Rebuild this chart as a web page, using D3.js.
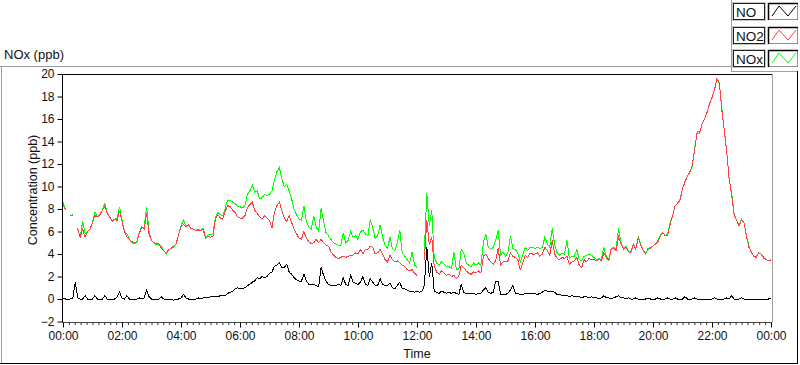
<!DOCTYPE html>
<html><head><meta charset="utf-8">
<script src="https://cdn.jsdelivr.net/npm/d3@7"></script>
<style>
body{margin:0;background:#fff}
svg{display:block}
text{font-family:"Liberation Sans",Arial,sans-serif;fill:#111}
</style>
</head><body>
<svg id="c" width="800" height="365"></svg>
<script>
const seriesNames = ["NO", "NO2", "NOx"];
const seriesColors = ["#000000", "#ff4040", "#00ff00"];
const xTickLabels = ["00:00","02:00","04:00","06:00","08:00","10:00","12:00","14:00","16:00","18:00","20:00","22:00","00:00"];
const yTickValues = [-2,0,2,4,6,8,10,12,14,16,18,20];
const sampleMinutes = 5;

const NO = [
0.1,0.0,0.0,0.0,0.1,1.5,0.1,0.0,0.0,0.3,0.0,0.0,
0.0,0.3,0.0,0.0,0.0,0.3,0.0,0.0,0.0,0.0,0.2,0.6,
0.1,0.0,0.3,0.0,0.0,0.0,0.0,0.1,0.0,0.1,0.8,0.2,
0.0,0.0,0.0,0.0,0.2,0.0,0.0,0.0,0.0,-0.1,0.0,0.0,
0.1,0.4,0.1,0.0,0.0,0.0,0.0,0.1,0.0,0.1,0.1,0.1,
0.2,0.2,0.2,0.2,0.3,0.3,0.3,0.5,0.6,0.7,0.9,1.0,
0.9,0.9,1.0,1.2,1.3,1.5,1.6,1.9,1.8,2.0,1.9,2.0,
2.3,2.4,2.9,3.0,3.2,2.8,2.8,3.1,2.4,2.2,1.9,1.7,
1.6,1.6,2.2,1.6,1.3,1.3,1.3,1.2,1.1,2.8,2.1,1.6,
1.3,1.2,1.2,1.2,1.3,1.2,1.9,1.3,1.2,2.1,1.5,1.4,
1.3,1.5,2.0,1.3,1.2,1.8,1.5,1.2,1.2,1.8,1.3,1.2,
1.2,1.4,1.0,0.9,1.2,1.5,0.9,0.9,0.8,0.7,0.7,0.6,
0.7,0.6,0.7,1.2,4.6,2.0,3.2,0.7,0.6,0.5,0.7,0.6,
0.5,0.6,0.5,0.6,0.5,0.4,1.3,0.6,0.5,0.5,0.5,0.5,
0.4,0.5,0.5,0.8,1.0,0.6,0.5,0.6,1.6,1.6,0.4,0.4,
0.4,0.5,0.8,1.2,0.5,0.5,0.4,0.4,0.5,0.5,0.5,0.5,
0.5,0.4,0.5,0.6,0.8,0.7,0.7,0.7,0.6,0.4,0.4,0.3,
0.3,0.3,0.2,0.3,0.2,0.2,0.2,0.1,0.2,0.2,0.1,0.2,
0.1,0.1,0.0,0.1,0.3,0.1,0.1,0.0,0.1,0.2,0.3,0.1,
0.1,0.0,0.1,0.0,0.0,0.1,0.0,0.0,0.0,0.0,0.1,0.0,
0.0,0.0,0.1,0.0,0.0,0.0,0.1,0.0,0.0,0.1,0.0,0.0,
0.0,0.2,0.0,0.0,0.0,0.1,0.0,0.0,0.0,0.0,0.0,0.0,
0.0,0.1,0.0,0.0,0.0,0.0,0.1,0.0,0.3,0.0,0.0,0.0,
0.1,0.0,0.0,0.0,0.0,0.0,0.0,0.0,0.0,0.0,0.0,0.0,
0.1
];

const NO2 = [
8.4,7.9,null,7.4,7.4,null,6.2,5.5,6.2,5.5,6.0,6.2,
6.8,7.4,7.3,7.5,7.9,8.2,7.6,7.3,6.9,7.1,7.0,7.8,
6.9,6.0,5.5,5.3,5.1,5.0,5.1,5.8,6.4,6.2,7.6,5.8,
5.2,5.0,4.9,4.9,4.5,4.3,4.1,4.4,4.5,4.7,4.9,5.7,
6.4,6.6,6.4,6.6,6.3,6.2,6.1,6.1,6.1,6.2,5.4,5.6,
5.5,5.6,7.1,7.5,7.2,7.1,7.8,8.3,8.2,7.9,7.7,7.3,
7.2,7.2,7.4,8.1,8.4,8.6,7.9,7.6,7.3,7.1,7.4,7.2,
7.0,6.3,7.7,8.3,8.6,7.9,7.2,6.9,7.4,6.8,6.2,5.8,
5.4,5.3,6.0,5.4,5.1,4.9,5.0,5.3,5.0,5.3,5.0,4.8,
4.7,4.2,3.9,3.7,3.6,3.7,3.8,3.7,3.8,3.9,3.9,4.1,
4.0,4.4,4.0,4.4,4.4,4.7,4.6,4.0,4.1,4.4,4.0,3.5,
3.3,3.9,3.5,3.3,3.4,3.2,3.0,2.9,2.6,2.5,2.6,2.3,
2.1,null,null,3.5,7.0,4.8,5.5,2.9,2.4,2.2,2.5,2.3,
2.1,2.2,2.0,2.1,1.8,2.0,3.0,2.8,2.5,2.3,2.2,2.4,
2.3,2.5,2.3,3.8,4.0,3.6,3.3,3.1,3.4,4.5,3.0,3.3,
3.3,3.4,4.1,3.8,3.7,3.5,2.6,3.2,3.9,3.7,4.1,4.0,
4.0,4.1,3.8,4.0,4.6,4.3,3.9,5.2,4.0,3.6,3.5,3.7,
3.6,3.8,3.1,3.3,3.4,3.7,3.0,2.8,3.5,3.3,3.6,3.5,
3.5,3.4,3.5,3.4,4.1,3.7,3.4,4.4,4.5,4.3,5.5,4.9,
4.4,4.6,4.2,4.1,4.8,4.4,5.4,4.8,4.3,4.1,4.4,4.5,
4.7,4.9,5.1,5.6,5.9,5.6,5.7,6.7,7.4,8.3,8.5,8.8,
9.8,10.4,10.9,11.3,11.9,13.4,14.9,14.8,15.6,16.0,16.6,17.3,
17.9,18.6,19.6,19.2,16.8,15.0,13.0,10.7,9.2,7.5,7.0,6.5,
7.0,6.8,5.6,4.6,4.2,3.8,3.7,4.1,4.0,3.7,3.5,3.4,
3.4
];

const NOx = [
8.6,8.0,null,7.4,7.5,null,6.3,5.5,6.9,5.8,6.0,6.2,
6.8,7.7,7.3,7.5,7.9,8.5,7.6,7.3,6.9,7.1,7.2,8.2,
7.0,6.0,5.8,5.3,5.0,4.9,5.0,5.9,6.4,6.3,8.2,6.0,
5.2,5.0,4.8,4.9,4.7,4.3,4.0,4.4,4.5,4.6,4.9,5.7,
6.5,7.0,6.5,6.6,6.3,6.2,6.1,6.2,6.1,6.3,5.5,5.7,
5.7,5.8,7.3,7.7,7.5,7.4,8.1,8.8,8.8,8.6,8.5,8.2,
8.2,8.1,8.3,9.3,9.6,10.1,9.5,9.6,8.9,9.0,9.3,9.2,
9.3,9.6,10.6,11.3,11.7,10.7,10.0,10.2,9.6,8.9,8.0,7.5,
7.1,7.0,8.3,6.9,6.4,6.2,7.4,6.4,6.0,8.1,6.9,5.9,
5.6,5.3,5.0,4.9,4.8,4.8,5.9,5.0,5.2,6.0,5.5,5.6,
5.3,6.0,6.1,5.8,5.6,7.1,6.3,5.4,5.6,6.6,5.5,4.8,
4.5,5.5,4.5,4.3,5.0,6.1,4.1,3.8,3.5,3.2,4.2,3.0,
2.8,null,null,4.4,9.4,6.5,7.9,3.7,3.2,3.0,3.3,3.1,
2.9,2.9,2.7,4.2,2.6,2.6,4.4,4.1,3.2,3.0,2.9,3.2,
3.0,3.2,3.0,5.0,5.8,4.6,4.4,4.6,5.2,6.1,3.9,4.2,
3.8,4.1,5.6,4.5,4.4,4.1,3.3,3.9,4.6,4.3,4.6,4.6,
4.5,4.6,4.5,4.6,5.5,4.9,4.6,6.3,4.8,4.1,3.9,4.1,
4.0,5.2,3.6,3.8,3.8,4.4,3.5,3.4,3.8,3.9,4.0,3.9,
3.7,3.5,3.6,3.5,4.6,3.8,3.5,4.5,4.6,4.5,6.3,5.0,
4.5,4.7,4.3,4.2,4.9,4.5,5.5,4.9,4.3,4.0,4.5,4.6,
4.7,4.9,5.2,5.7,5.9,5.6,5.8,6.8,7.4,8.3,8.5,8.9,
9.8,10.5,10.9,11.3,11.8,13.5,14.8,14.7,15.6,16.0,16.6,17.4,
17.9,18.6,19.5,19.2,16.9,15.0,13.1,10.6,9.4,7.6,7.0,6.5,
7.1,6.8,5.7,4.7,4.1,3.8,3.8,4.1,4.0,3.6,3.5,3.4,
3.5
];

const svg = d3.select("#c");
const W = 800, H = 365;
svg.append("rect").attr("width", W).attr("height", H).attr("fill", "#fff");

const x = d3.scaleLinear().domain([0, 24 * 60]).range([63, 771]);
const y = d3.scaleLinear().domain([-2, 20]).range([321.5, 74]);

// outer panel frame
const gray = "#a0a0a0";
function hline(x1, x2, yy, c, w) { svg.append("line").attr("x1", x1).attr("x2", x2).attr("y1", yy).attr("y2", yy).attr("stroke", c).attr("stroke-width", w || 1).attr("shape-rendering", "crispEdges"); }
function vline(xx, y1, y2, c, w) { svg.append("line").attr("x1", xx).attr("x2", xx).attr("y1", y1).attr("y2", y2).attr("stroke", c).attr("stroke-width", w || 1).attr("shape-rendering", "crispEdges"); }
hline(0, 731, 66.5, gray);
vline(731.5, 0, 72, gray);
hline(731, 798, 71.5, gray);
vline(1.5, 66, 363, gray);
hline(0, 798, 363.5, "#000");
vline(797.5, 71, 364, "#000");

// plot frame
hline(62, 772, 74.5, "#000");
vline(772.5, 74, 322, gray);

// title
svg.append("text").attr("x", 4).attr("y", 59).attr("font-size", 13).text("NOx (ppb)");

// clip
svg.append("clipPath").attr("id", "pc").append("rect")
  .attr("x", 63).attr("y", 75).attr("width", 709).attr("height", 247);

const seriesData = [NO, NO2, NOx];
const line = d3.line()
  .defined(d => d != null)
  .x((d, i) => x(i * sampleMinutes))
  .y(d => y(d));

const plotG = svg.append("g").attr("clip-path", "url(#pc)");
// draw order: NOx underneath, NO2 on top of it, then NO
[2, 1, 0].forEach(k => {
  plotG.append("path")
    .attr("d", line(seriesData[k]))
    .attr("fill", "none")
    .attr("stroke", seriesColors[k])
    .attr("stroke-width", 1)
    .attr("shape-rendering", "crispEdges");
});

// y axis
const yAxis = d3.axisLeft(y).tickValues(yTickValues).tickSize(5).tickPadding(3).tickFormat(d3.format("d"));
const yg = svg.append("g").attr("transform", "translate(62.5,0)").call(yAxis);
yg.select(".domain").attr("stroke", "#000").attr("d", "M0,74V322");
yg.selectAll(".tick line").attr("stroke", "#000");
yg.selectAll(".tick text").attr("font-size", 12).attr("fill", "#111");

// x axis
const xMajor = d3.range(0, 24 * 60 + 1, 120);
const xAxis = d3.axisBottom(x).tickValues(xMajor).tickSize(5).tickPadding(4).tickFormat((d, i) => xTickLabels[i]);
const xg = svg.append("g").attr("transform", "translate(0,322.5)").call(xAxis);
xg.select(".domain").attr("stroke", "#444").attr("d", "M62,0H772");
xg.selectAll(".tick line").attr("stroke", "#000");
xg.selectAll(".tick text").attr("font-size", 12).attr("fill", "#111");
const xMinor = d3.range(0, 24 * 60 + 1, 12).filter(d => d % 120 !== 0);
const xAxisMinor = d3.axisBottom(x).tickValues(xMinor).tickSize(2.5).tickFormat("");
const xmg = svg.append("g").attr("transform", "translate(0,322.5)").call(xAxisMinor);
xmg.select(".domain").remove();
xmg.selectAll(".tick line").attr("stroke", "#333");

// axis titles
svg.append("text").attr("x", 417).attr("y", 358).attr("text-anchor", "middle").attr("font-size", 12.5).text("Time");
svg.append("text").attr("transform", "translate(37,190) rotate(-90)").attr("text-anchor", "middle").attr("font-size", 12.5).text("Concentration (ppb)");

// legend
const legendTop = [3, 27, 50];
const zig = [[3, 13], [10, 3], [19, 13], [27, 3]];
const zigLine = d3.line();
seriesNames.forEach((name, k) => {
  const ly = legendTop[k];
  const g = svg.append("g").attr("transform", `translate(0,${ly})`);
  g.append("rect").attr("x", 732.5).attr("y", -0.5).attr("width", 33).attr("height", 18).attr("fill", "none").attr("stroke", "#c8c8c8").attr("shape-rendering", "crispEdges");
  g.append("rect").attr("x", 733.5).attr("y", 0.5).attr("width", 31).attr("height", 16).attr("fill", "#fff").attr("stroke", "#202020").attr("shape-rendering", "crispEdges");
  g.append("text").attr("x", 736).attr("y", 13.5).attr("font-size", 13.5).text(name);
  g.append("rect").attr("x", 768.5).attr("y", 0.5).attr("width", 29).attr("height", 16).attr("fill", "#fff").attr("stroke", "#909090").attr("shape-rendering", "crispEdges");
  g.append("path").attr("d", "M768.5,17V0.5H798").attr("fill", "none").attr("stroke", "#000").attr("stroke-width", 1.5);
  g.append("path").attr("transform", "translate(769,0)").attr("d", zigLine(zig)).attr("fill", "none").attr("stroke", seriesColors[k]).attr("stroke-width", 1);
});
</script>
</body></html>
